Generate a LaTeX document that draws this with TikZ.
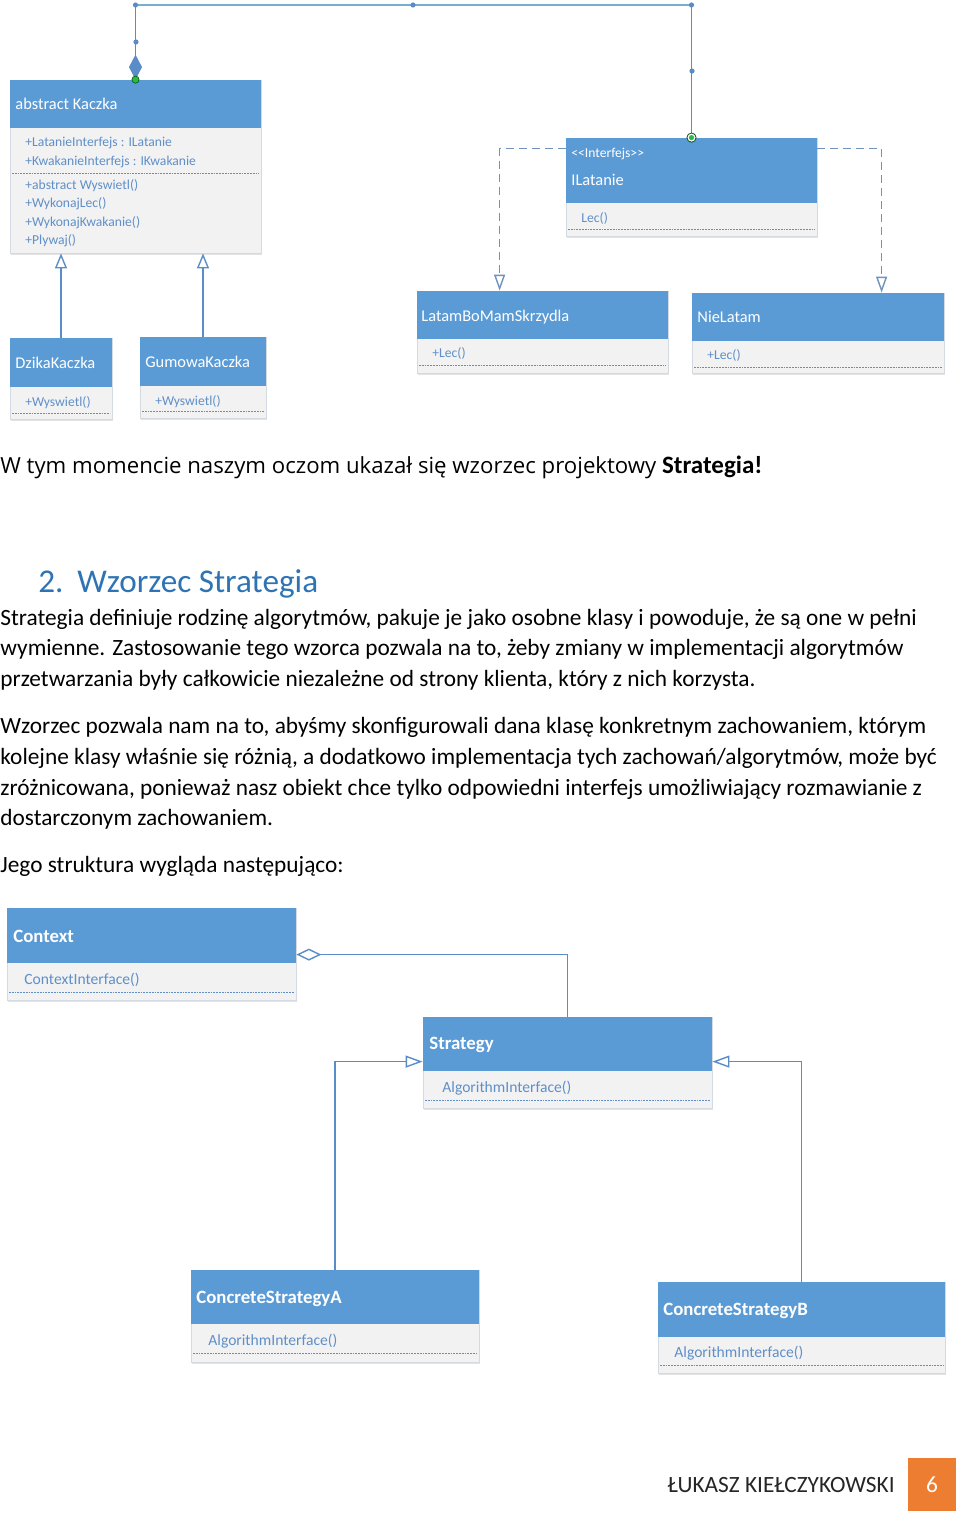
\documentclass[tikz,border=0pt]{standalone}
\usepackage{fontspec}
\setmainfont{Carlito}
\newfontfamily\osans{Open Sans}
\usepackage{tikz}
\usetikzlibrary{arrows.meta,fit,shadows}
\definecolor{hdrc}{HTML}{5B9BD5}
\definecolor{bodyc}{HTML}{F2F2F2}
\definecolor{edgec}{HTML}{D3DAE2}
\definecolor{membc}{HTML}{5F8FC8}
\definecolor{linec}{HTML}{5A8DC8}
\definecolor{topc}{HTML}{78AECF}
\definecolor{dashc}{HTML}{6F93BD}
\definecolor{headc}{HTML}{2E74B5}
\definecolor{orng}{HTML}{ED7D31}
\definecolor{grn}{HTML}{2DB84A}
\tikzset{
  cbody/.style={draw=edgec,fill=bodyc,inner sep=0pt,line width=0.4pt,
    drop shadow={shadow xshift=0.6pt,shadow yshift=-0.9pt,opacity=0.18,fill=black!60}},
  chead/.style={fill=hdrc,inner sep=0pt},
  cname/.style={anchor=base west,inner sep=0pt,text=white,font=\fontsize{8.2}{10}\selectfont},
  bname/.style={cname,font=\fontsize{9.4}{11}\selectfont\bfseries},
  memb/.style={anchor=base west,inner sep=0pt,text=membc,font=\fontsize{6.8}{8}\selectfont},
  memb2/.style={memb,font=\fontsize{7.8}{9}\selectfont},
  sepl/.style={membc,line width=0.4pt,dash pattern=on 0.9pt off 0.5pt},
  txt/.style={anchor=base west,inner sep=0pt,font=\fontsize{11.66}{14}\selectfont},
  vln/.style={linec,line width=0.7pt},
  gen/.style={-{Triangle[open,length=7.5pt,width=6pt]},linec,line width=0.7pt},
  gen2/.style={-{Triangle[open,length=8.5pt,width=6pt]},linec,line width=0.7pt},
  realz/.style={-{Triangle[open,length=8pt,width=5.5pt]},dashc,line width=0.7pt,dash pattern=on 4pt off 2.5pt},
  aggr/.style={-{Diamond[open,length=12.5pt,width=6pt]},linec,line width=0.7pt}
}
\begin{document}
\begin{tikzpicture}[x=0.5pt,y=-0.5pt]
\useasboundingbox[fill=white] (0,0) rectangle (960,1515);
% --- Kaczka: klasy
\node[cbody,fit={(10,80) (261,253)}] (kaczka) {};
\node[chead,fit={(10,80) (261,128)}] (kaczkaH) {};
\node[cbody,fit={(566,138) (817,236)}] (ilat) {};
\node[chead,fit={(566,138) (817,203)}] (ilatH) {};
\node[cbody,fit={(417,291) (668,373)}] (latam) {};
\node[chead,fit={(417,291) (668,339)}] (latamH) {};
\node[cbody,fit={(692,293) (944,373)}] (niel) {};
\node[chead,fit={(692,293) (944,341)}] (nielH) {};
\node[cbody,fit={(10,338) (112,419)}] (dzika) {};
\node[chead,fit={(10,338) (112,387)}] (dzikaH) {};
\node[cbody,fit={(140,337) (266,418)}] (gumowa) {};
\node[chead,fit={(140,337) (266,386)}] (gumowaH) {};
\draw[sepl] (12,173)--(259,173) (568,229)--(815,229) (419,365)--(666,365)
  (694,367)--(942,367) (12,413)--(110,413) (142,411)--(264,411);
\node[cname] (kaczkaN) at (15,109) {abstract Kaczka};
\node[memb] (m1) at (25,146) {+LatanieInterfejs : ILatanie};
\node[memb] (m2) at (25,165) {+KwakanieInterfejs : IKwakanie};
\node[memb] (m3) at (25,189) {+abstract Wyswietl()};
\node[memb] (m4) at (25,207) {+WykonajLec()};
\node[memb] (m5) at (25,226) {+WykonajKwakanie()};
\node[memb] (m6) at (25,244) {+Plywaj()};
\node[memb,text=white] (ilatS) at (571,157) {<{}<Interfejs>{}>};
\node[cname] (ilatN) at (571,185) {ILatanie};
\node[memb] (ilatM) at (581,222) {Lec()};
\node[cname] (latamN) at (421,321) {LatamBoMamSkrzydla};
\node[memb] (latamM) at (432,357) {+Lec()};
\node[cname] (nielN) at (697,322) {NieLatam};
\node[memb] (nielM) at (707,359) {+Lec()};
\node[cname] (dzikaN) at (15,368) {DzikaKaczka};
\node[memb] (dzikaM) at (25,406) {+Wyswietl()};
\node[cname] (gumowaN) at (145,367) {GumowaKaczka};
\node[memb] (gumowaM) at (155,405) {+Wyswietl()};
% --- Kaczka: polaczenia
\coordinate (tl) at (kaczka.north |- 0,5);
\coordinate (tr) at (ilat.north |- 0,5);
\draw[topc,line width=0.7pt] (tl) -- (tr);
\draw[vln,-{Diamond[length=12.5pt,width=6.5pt]}] (tl) -- (kaczka.north);
\draw[vln] (tr) -- (ilat.north);
\foreach \p in {(tl),(tr),(413,5),(136,42),(692,71)} \fill[linec] \p circle (1.3pt);
\filldraw[fill=grn,draw=green!35!black,line width=0.3pt] (kaczka.north) circle (1.8pt);
\filldraw[fill=white,draw=green!35!black,line width=0.4pt] (ilat.north) circle (2.3pt);
\fill[grn] (ilat.north) circle (1.3pt);
\draw[gen] (dzika.north) -- (dzika.north |- kaczka.south);
\draw[gen] (gumowa.north) -- (gumowa.north |- kaczka.south);
\draw[realz] ([yshift=-5.5pt]ilat.north west) -| ([xshift=41.5pt]latam.north west);
\draw[realz] ([yshift=-5.5pt]ilat.north east) -| ([xshift=95pt]niel.north west);
% --- tekst
\node[txt] (l0) at (0,473) {{\osans\fontsize{11.1}{14}\selectfont W tym momencie naszym oczom ukazał się wzorzec projektowy }\textbf{\fontsize{12.5}{14}\selectfont Strategia!}};
\node[txt,text=headc,font=\fontsize{16.6}{20}\selectfont] (h2) at (38,592) {\makebox[19.5pt][l]{2.}Wzorzec Strategia};
\node[txt] (p1) at (0,625) {Strategia definiuje rodzinę algorytmów, pakuje je jako osobne klasy i powoduje, że są one w pełni};
\node[txt] (p2) at (0,655) {wymienne. Zastosowanie tego wzorca pozwala na to, żeby zmiany w implementacji algorytmów};
\node[txt] (p3) at (0,686) {przetwarzania były całkowicie niezależne od strony klienta, który z nich korzysta.};
\node[txt] (q1) at (0,733) {Wzorzec pozwala nam na to, abyśmy skonfigurowali dana klasę konkretnym zachowaniem, którym};
\node[txt] (q2) at (0,764) {kolejne klasy właśnie się różnią, a dodatkowo implementacja tych zachowań/algorytmów, może być};
\node[txt] (q3) at (0,795) {zróżnicowana, ponieważ nasz obiekt chce tylko odpowiedni interfejs umożliwiający rozmawianie z};
\node[txt] (q4) at (0,825) {dostarczonym zachowaniem.};
\node[txt] (r1) at (0,872) {Jego struktura wygląda następująco:};
% --- Strategia: klasy
\node[cbody,fit={(7,908) (296,1000)}] (ctx) {};
\node[chead,fit={(7,908) (296,963)}] (ctxH) {};
\node[cbody,fit={(423,1017) (712,1108)}] (strat) {};
\node[chead,fit={(423,1017) (712,1071)}] (stratH) {};
\node[cbody,fit={(191,1270) (479,1362)}] (csa) {};
\node[chead,fit={(191,1270) (479,1324)}] (csaH) {};
\node[cbody,fit={(658,1282) (945,1373)}] (csb) {};
\node[chead,fit={(658,1282) (945,1337)}] (csbH) {};
\draw[sepl] (9,992)--(294,992) (425,1100)--(710,1100) (193,1353)--(477,1353) (660,1365)--(943,1365);
\node[bname] (ctxN) at (13,942) {Context};
\node[memb2] (ctxM) at (24,984) {ContextInterface()};
\node[bname] (stratN) at (429,1049) {Strategy};
\node[memb2] (stratM) at (442,1092) {AlgorithmInterface()};
\node[bname] (csaN) at (196,1303) {ConcreteStrategyA};
\node[memb2] (csaM) at (208,1345) {AlgorithmInterface()};
\node[bname] (csbN) at (663,1315) {ConcreteStrategyB};
\node[memb2] (csbM) at (674,1357) {AlgorithmInterface()};
% --- Strategia: polaczenia
\draw[aggr] (strat.north) |- ([yshift=-23.5pt]ctx.north east);
\draw[gen2] (csa.north) |- ([yshift=-22.5pt]strat.north west);
\draw[gen2] (csb.north) |- ([yshift=-22.5pt]strat.north east);
% --- stopka
\node[txt,anchor=base east,text=black!85] (autor) at (895,1492) {ŁUKASZ KIEŁCZYKOWSKI};
\node[fill=orng,inner sep=0pt,fit={(908,1458) (956,1511)}] (pgbox) {};
\node[txt,anchor=base,text=white] (pg) at (932,1492) {6};
\end{tikzpicture}
\end{document}
